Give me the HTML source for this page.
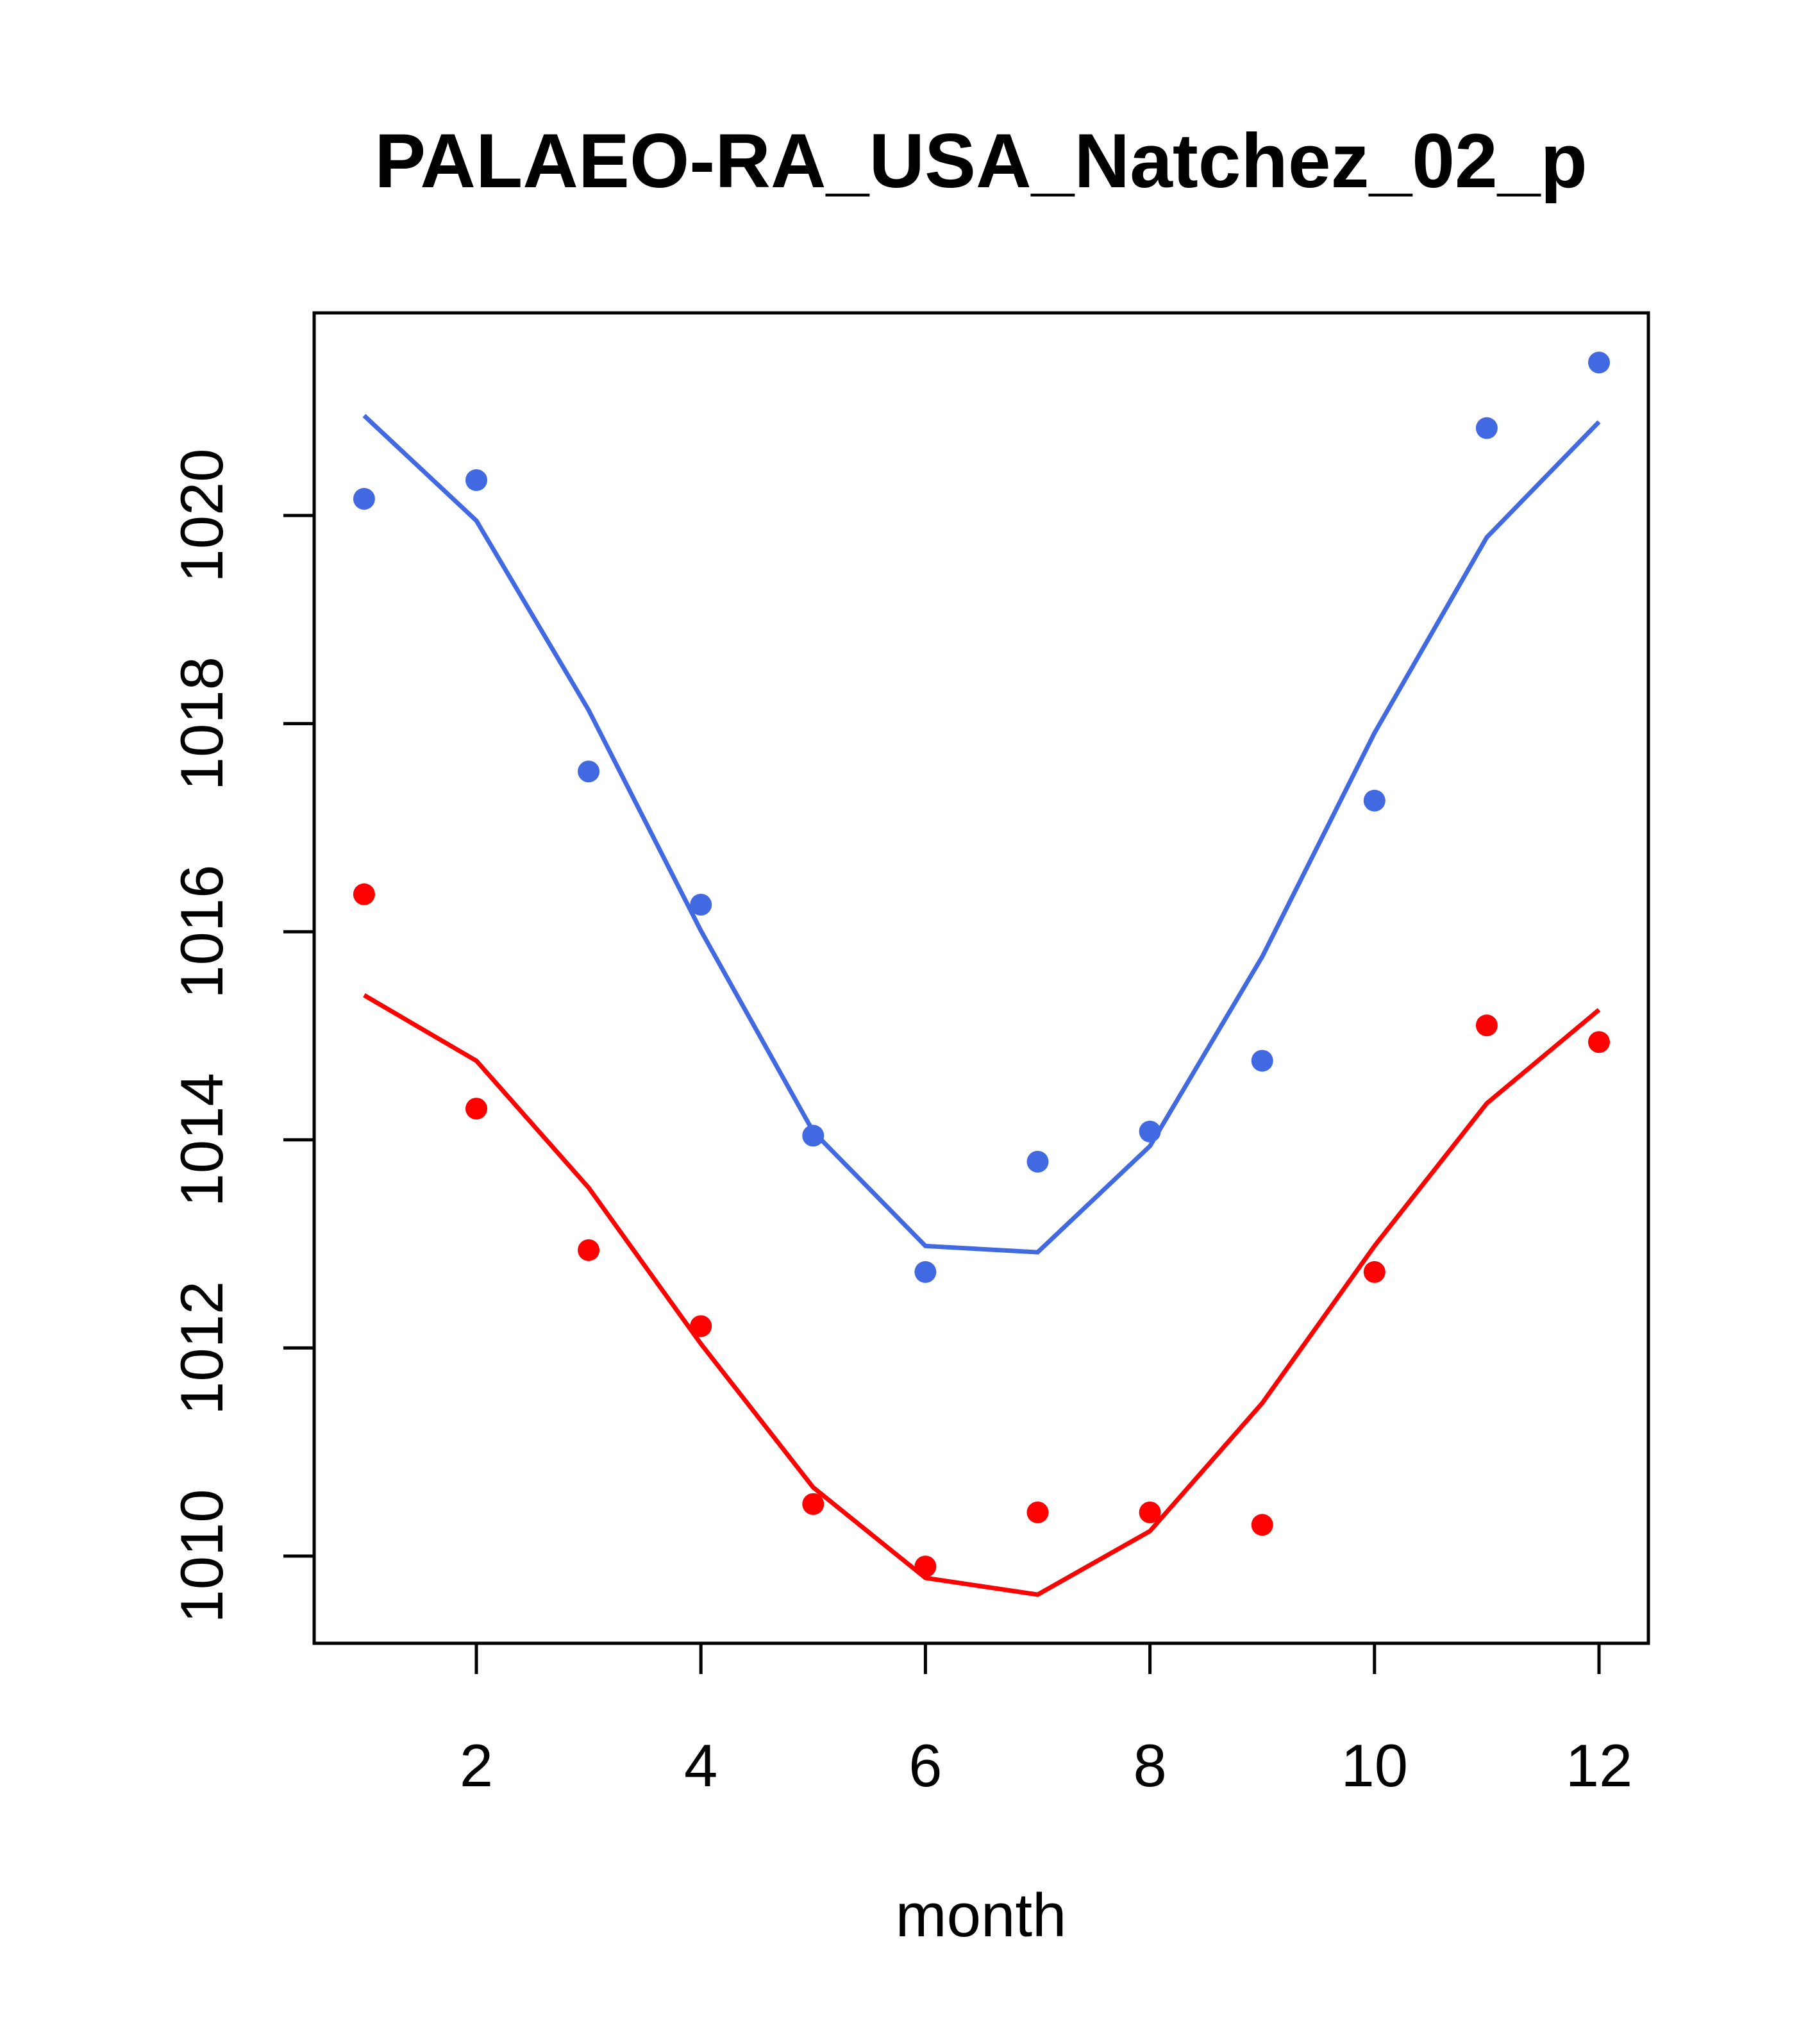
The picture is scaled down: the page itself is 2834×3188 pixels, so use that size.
<!DOCTYPE html>
<html><head><meta charset="utf-8"><style>
html,body{margin:0;padding:0;background:#fff}
svg{display:block}
text{font-family:"Liberation Sans",Arial,sans-serif}
</style></head><body>
<svg id="chart" width="2834" height="3188" viewBox="0 0 2834 3188" xmlns="http://www.w3.org/2000/svg">
<rect width="2834" height="3188" fill="#fff"/>
<text x="1530" y="292" font-size="120" font-weight="bold" text-anchor="middle">PALAEO-RA_USA_Natchez_02_p</text>
<rect x="490" y="488" width="2081" height="2075" fill="none" stroke="#000" stroke-width="5"/>
<g id="xaxis"></g>
<g id="yaxis"></g>
<text x="1530" y="3020" font-size="96" text-anchor="middle">month</text>
<g id="series"></g>
</svg>
<script>
const months=[1,2,3,4,5,6,7,8,9,10,11,12];
const xTicks=[2,4,6,8,10,12];
const yTicks=[1010,1012,1014,1016,1018,1020];
const bluePoints=[1020.16,1020.34,1017.54,1016.26,1014.04,1012.73,1013.79,1014.08,1014.76,1017.26,1020.84,1021.47];
const blueLine=[1020.96,1019.95,1018.13,1016.01,1014.08,1012.98,1012.92,1013.94,1015.76,1017.91,1019.79,1020.90];
const redPoints=[1016.36,1014.30,1012.94,1012.21,1010.50,1009.90,1010.42,1010.42,1010.30,1012.73,1015.10,1014.94];
const redLine=[1015.39,1014.76,1013.54,1012.04,1010.66,1009.79,1009.63,1010.24,1011.47,1012.98,1014.35,1015.25];

const NS="http://www.w3.org/2000/svg";
function xs(m){return 743+(m-2)*175.1;}
function ys(v){return 2427-(v-1010)*162.3;}
function mk(tag,parent,attrs){const e=document.createElementNS(NS,tag);for(const k in attrs)e.setAttribute(k,attrs[k]);parent.appendChild(e);return e;}

const xa=document.getElementById('xaxis');
mk('line',xa,{x1:xs(xTicks[0]),x2:xs(xTicks[xTicks.length-1]),y1:2563,y2:2563,stroke:'#000','stroke-width':5});
xTicks.forEach(t=>{
  const l=mk('line',xa,{x1:xs(t),x2:xs(t),y1:2563,y2:2611,stroke:'#000','stroke-width':5});
  
  
  const tx=mk('text',xa,{x:xs(t),y:2786,'font-size':94,'text-anchor':'middle'});
  tx.textContent=t;
  
  
});
const ya=document.getElementById('yaxis');
mk('line',ya,{x1:490,x2:490,y1:ys(yTicks[0]),y2:ys(yTicks[yTicks.length-1]),stroke:'#000','stroke-width':5});
yTicks.forEach(t=>{
  const l=mk('line',ya,{x1:442,x2:490,y1:ys(t),y2:ys(t),stroke:'#000','stroke-width':5});
  
  
  const tx=mk('text',ya,{x:0,y:0,'font-size':94,'text-anchor':'middle',transform:`translate(347,${ys(t)}) rotate(-90)`});
  tx.textContent=t;
  
  
});
const sg=document.getElementById('series');
function drawSeries(line,pts,color,name){
  const p=mk('polyline',sg,{points:months.map((m,i)=>xs(m)+','+ys(line[i])).join(' '),fill:'none',stroke:color,'stroke-width':7});
  
  
  months.forEach((m,i)=>{
    const c=mk('circle',sg,{cx:xs(m),cy:ys(pts[i]),r:17,fill:color});
    
    
  });
}
drawSeries(blueLine,bluePoints,'#4169e1','blue');
drawSeries(redLine,redPoints,'#ff0000','red');
</script>
</body></html>
